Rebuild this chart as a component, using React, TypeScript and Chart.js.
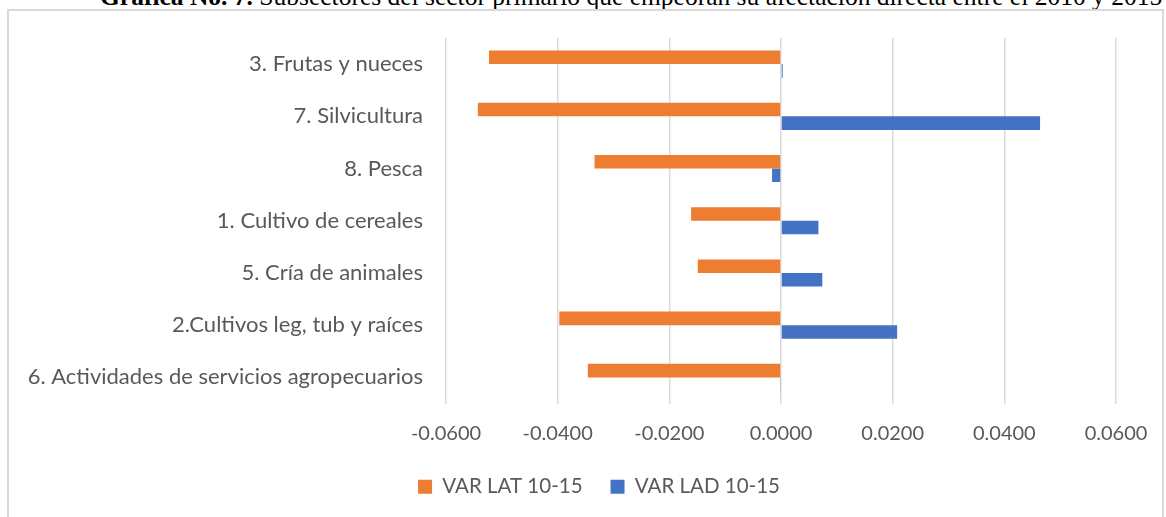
import React, { useEffect, useRef } from "react";
import { Chart, registerables } from "chart.js";

Chart.register(...registerables);

const categories = [
  "3. Frutas y nueces",
  "7. Silvicultura",
  "8. Pesca",
  "1. Cultivo de cereales",
  "5. Cría de animales",
  "2.Cultivos leg, tub y raíces",
  "6. Actividades de servicios agropecuarios",
];
const seriesNames = ["VAR LAT 10-15", "VAR LAD 10-15"];
const varLat = [-0.0523, -0.0543, -0.0334, -0.0161, -0.0149, -0.0397, -0.0346];
const varLad = [0.0003, 0.0464, -0.0016, 0.0067, 0.0074, 0.0208, -0.0001];
const xTicks = [-0.06, -0.04, -0.02, 0, 0.02, 0.04, 0.06];
const titleBold = "Gráfica No. 7.";
const titleRest = " Subsectores del sector primario que empeoran su afectación directa entre el 2010 y 2015";

const FONT = "Lato, 'Open Sans', sans-serif";
const TEXT = "#595959";

// Shifts the legend so it is centred under the whole framed chart, as in the original
const legendShift = {
  id: "legendShift",
  afterLayout(chart: any) {
    const l = chart.legend;
    if (l) {
      l.left += 41;
      l.right += 41;
    }
  },
};

export default function App() {
  const ref = useRef<HTMLCanvasElement | null>(null);

  useEffect(() => {
    if (!ref.current) return;
    const chart = new Chart(ref.current, {
      type: "bar",
      data: {
        labels: categories,
        datasets: [
          {
            label: seriesNames[0],
            data: varLat,
            backgroundColor: "#ED7D31",
            barPercentage: 1,
            categoryPercentage: 0.52,
          },
          {
            label: seriesNames[1],
            data: varLad,
            backgroundColor: "#4472C4",
            barPercentage: 1,
            categoryPercentage: 0.52,
          },
        ],
      },
      options: {
        indexAxis: "y",
        animation: false,
        responsive: false,
        maintainAspectRatio: false,
        layout: { padding: { top: 38, left: 0, right: 50, bottom: 53 } },
        scales: {
          x: {
            min: -0.06,
            max: 0.06,
            afterBuildTicks: (s: any) => {
              s.ticks = xTicks.map((v) => ({ value: v }));
            },
            afterFit: (s: any) => {
              s.height = 45;
            },
            ticks: {
              callback: (v: any) => Number(v).toFixed(4),
              color: TEXT,
              font: { family: FONT, size: 20 },
              padding: 18,
              maxRotation: 0,
            },
            grid: { color: "#d9d9d9", lineWidth: 1.5, drawTicks: false },
            border: { display: false },
          },
          y: {
            afterFit: (s: any) => {
              s.width = 446;
            },
            ticks: { color: TEXT, font: { family: FONT, size: 22 }, padding: 23 },
            grid: { display: false, drawTicks: false },
            border: { display: false },
          },
        },
        plugins: {
          legend: {
            position: "bottom",
            labels: {
              boxWidth: 14,
              boxHeight: 14,
              padding: 28,
              color: TEXT,
              font: { family: FONT, size: 20.5 },
            },
          },
          tooltip: { enabled: false },
        },
      },
      plugins: [legendShift],
    });
    return () => chart.destroy();
  }, []);

  return (
    <div
      style={{
        position: "fixed",
        left: 0,
        top: 0,
        width: 1166,
        height: 517,
        overflow: "hidden",
        background: "#fff",
      }}
    >
      <div
        style={{
          position: "absolute",
          left: 100,
          top: -18,
          whiteSpace: "nowrap",
          fontFamily: "'Liberation Serif', 'Times New Roman', serif",
          fontSize: 25.5,
          color: "#000",
        }}
      >
        <b>{titleBold}</b>
        {titleRest}
      </div>
      <div
        style={{
          position: "absolute",
          left: 7,
          top: 9,
          width: 1153,
          height: 600,
          border: "2px solid #d9d9d9",
        }}
      />
      <canvas
        ref={ref}
        width={1166}
        height={560}
        style={{ position: "absolute", left: 0, top: 0, width: 1166, height: 560, display: "block" }}
      />
    </div>
  );
}
